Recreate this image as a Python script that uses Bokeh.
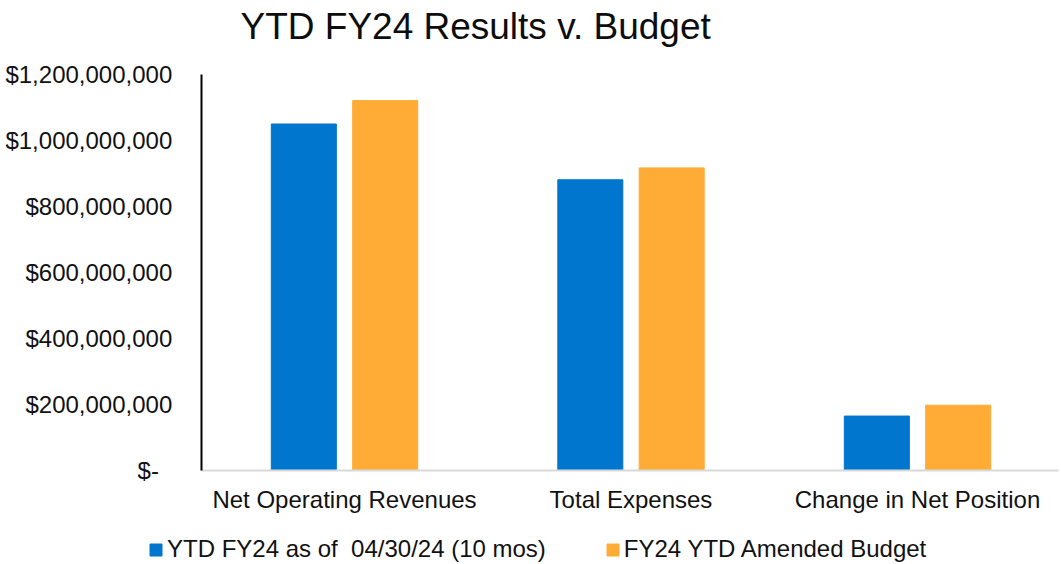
from bokeh.plotting import figure
from bokeh.models import (ColumnDataSource, Range1d, FixedTicker, CustomJSTickFormatter,
                          Legend, LegendItem)
from bokeh.transform import dodge
from bokeh.embed import file_html
from bokeh.resources import INLINE

# ---- data ----
categories = ["Net Operating Revenues", "Total Expenses", "Change in Net Position"]
ytd_actual = [1050e6, 881e6, 165e6]
ytd_budget = [1121e6, 917e6, 198e6]
series_names = ["YTD FY24 as of  04/30/24 (10 mos)", "FY24 YTD Amended Budget"]
y_ticks = [0, 200e6, 400e6, 600e6, 800e6, 1000e6, 1200e6]
cat_pos = [0.5, 1.5, 2.5]

FONT = "Liberation Sans"
BLUE = "#0176CE"
ORANGE = "#FFAC37"
TXT = "#111111"

# ---- layout geometry (pixels) ----
W, H = 1061, 562
FRAME_TOP = 48          # frame spans FRAME_TOP..H vertically, 0..W horizontally
ZERO_PX = 470           # pixel row of value 0
TOP_PX = 74             # pixel row of 1.2e9
CAT_PX = 286.5          # pixels per category
X0_PX = 200.75          # pixel column of x = 0
ymax = y_ticks[-1]
vpp = ymax / (ZERO_PX - TOP_PX)          # value per pixel
y_range = Range1d(-(H - ZERO_PX) * vpp, (ZERO_PX - FRAME_TOP) * vpp)
x_range = Range1d(-X0_PX / CAT_PX, (W - X0_PX) / CAT_PX)

src = ColumnDataSource(dict(x=cat_pos, actual=ytd_actual, budget=ytd_budget))

p = figure(width=W, height=H, output_backend="svg", toolbar_location=None,
           x_range=x_range, y_range=y_range,
           min_border_left=0, min_border_right=0, min_border_top=FRAME_TOP,
           min_border_bottom=0)

p.title.text = "YTD FY24 Results v. Budget"
p.title.text_font = FONT
p.title.text_font_size = "37px"
p.title.text_font_style = "normal"
p.title.text_color = "#0d0d0d"
p.title.align = "left"
p.title.offset = 240
p.title.standoff = 0
p.title.vertical_align = "top"

r1 = p.vbar(x=dodge("x", -0.142, range=p.x_range), top="actual", width=0.227,
            source=src, fill_color=BLUE, line_color=BLUE)
r2 = p.vbar(x=dodge("x", 0.142, range=p.x_range), top="budget", width=0.227,
            source=src, fill_color=ORANGE, line_color=ORANGE)

p.xgrid.visible = False
p.ygrid.visible = False
p.outline_line_color = None
p.background_fill_color = "white"
p.border_fill_color = "white"

# y axis
p.yaxis.fixed_location = 0
p.yaxis.bounds = (0, ymax)
p.yaxis.ticker = FixedTicker(ticks=y_ticks)
p.yaxis.formatter = CustomJSTickFormatter(code="""
    if (tick == 0) { return "$-\\u00a0\\u00a0"; }
    return "$" + Math.round(tick).toLocaleString("en-US");
""")
p.yaxis.major_label_text_font = FONT
p.yaxis.major_label_text_font_size = "24px"
p.yaxis.major_label_text_color = TXT
p.yaxis.major_tick_line_color = None
p.yaxis.minor_tick_line_color = None
p.yaxis.major_tick_out = 0
p.yaxis.major_tick_in = 0
p.yaxis.major_label_standoff = 29
p.yaxis.axis_line_color = "#000000"
p.yaxis.axis_line_width = 2

# x axis
p.xaxis.fixed_location = 0
p.xaxis.bounds = (0, 2.993)
p.xaxis.ticker = FixedTicker(ticks=cat_pos)
p.xaxis.major_label_overrides = {cp: c for cp, c in zip(cat_pos, categories)}
p.xaxis.major_label_text_font = FONT
p.xaxis.major_label_text_font_size = "24px"
p.xaxis.major_label_text_color = TXT
p.xaxis.major_tick_line_color = None
p.xaxis.minor_tick_line_color = None
p.xaxis.major_tick_out = 0
p.xaxis.major_tick_in = 0
p.xaxis.major_label_standoff = 15
p.xaxis.axis_line_color = "#d9d9d9"
p.xaxis.axis_line_width = 2

legend = Legend(items=[LegendItem(label=series_names[0], renderers=[r1]),
                       LegendItem(label=series_names[1], renderers=[r2])],
                location=(148, -1), orientation="horizontal",
                label_text_font=FONT, label_text_font_size="24px",
                label_text_color=TXT,
                glyph_width=15, glyph_height=15, label_standoff=4, spacing=59,
                padding=0, margin=0, border_line_alpha=0, background_fill_alpha=0)
p.add_layout(legend, "center")

open("out.html", "w").write(file_html(p, INLINE))
